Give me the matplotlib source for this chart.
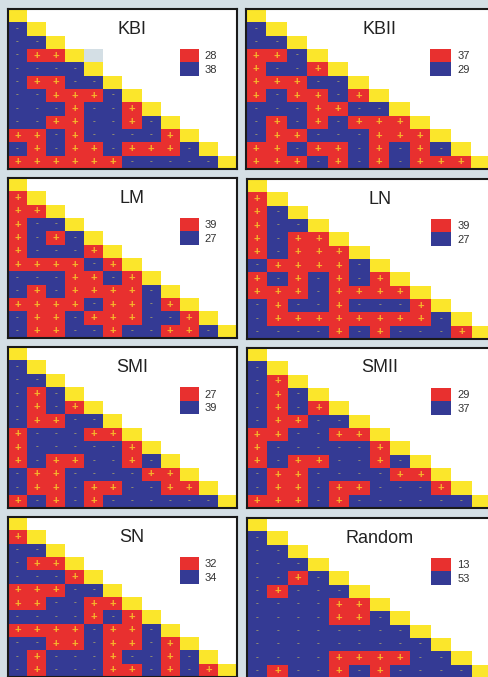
import numpy as np
import matplotlib.pyplot as plt
from matplotlib.colors import ListedColormap

plt.rcParams['font.family'] = ['Liberation Sans', 'DejaVu Sans']

# rows 1..11 of the lower triangle, '+' = positive, '-' = negative
titles = ['KBI', 'KBII', 'LM', 'LN', 'SMI', 'SMII', 'SN', 'Random']

kbi = ['-', '--', '-++', '----', '-++--', '--+++-', '---+--+', '--++--+-',
       '++-+----+', '-+-++-+++-', '++++++-----']
kbii = ['-', '--', '++-', '+--+', '+++--', '+-++-+', '---++--', '-+-+-+++',
        '-++---+++', '++-++-+-+-', '+++-+-+-+++']
lm = ['+', '++', '+--', '+-+-', '+---+', '++++-+', '---++-+', '-+-++++-',
      '++++-++-+', '-++-+++--+', '-++--+--++-']
ln = ['+', '+-', '+--', '+-++', '+-+++', '-++++-', '+-+-+-+', '+++-++++',
      '-+--+---+', '-++++++++-', '----+-+---+']
smi = ['-', '--', '-+-', '-+-+', '-++--', '+---++', '+-----+', '+-++--+-',
       '-++----++', '-++-++--++', '+-+-+------']
smii = ['-', '-+', '-+-', '-+-+', '-++--', '++--++', '+-----+', '+-++--+-',
        '-++----++', '-++-++---+', '+++-+------']
sn = ['+', '--', '-++', '---+', '+++--', '++--++', '----+-+', '++++-++-',
      '--++-++-+', '-+---+--+-', '-+---++-+-+']
rand = ['-', '--', '---', '--+-', '-+---', '----++', '----++-', '--------',
        '---------', '----++++--', '-+--+-+----']
panels = [kbi, kbii, lm, ln, smi, smii, sn, rand]

# panel boxes in pixels: left, top, right, bottom
boxes = [(8, 9, 237, 169), (246, 9, 492, 169),
         (8, 178, 237, 338), (247, 179, 492, 339),
         (8, 347, 237, 508), (247, 348, 492, 508),
         (8, 517, 237, 677), (247, 518, 492, 678)]

RED = '#e8302f'
BLUE = '#343a94'
YELLOW = '#fbe62b'
BG = '#d4dfe5'

W, H = 489, 677
fig = plt.figure(figsize=(W / 100, H / 100), dpi=100, facecolor=BG)

n = 12
cmap = ListedColormap([YELLOW, RED, BLUE, BG])

for title, rows, (l, t, r, b) in zip(titles, panels, boxes):
    ax = fig.add_axes([l / W, 1 - b / H, (r - l) / W, (b - t) / H])
    ax.set_facecolor('white')

    mat = np.full((n, n), np.nan)
    for i in range(n):
        mat[i, i] = 0
    for i, row in enumerate(rows, start=1):
        for j, s in enumerate(row):
            mat[i, j] = 1 if s == '+' else 2
    if title == 'KBI':
        mat[3, 4] = 3  # odd grey cell in the original

    ax.pcolormesh(np.arange(n + 1), np.arange(n + 1),
                  np.ma.masked_invalid(mat), cmap=cmap, vmin=-0.5, vmax=3.5)

    for i, row in enumerate(rows, start=1):
        for j, s in enumerate(row):
            if s == '+':
                ax.text(j + 0.5, i + 0.5, '+', color='#f6b92b', fontsize=8,
                        fontweight='bold', ha='center', va='center')
            else:
                ax.text(j + 0.5, i + 0.45, '-', color='#a9a26a', fontsize=6,
                        fontweight='bold', ha='center', va='center')

    n_pos = sum(row.count('+') for row in rows)
    n_neg = sum(row.count('-') for row in rows)
    ax.add_patch(plt.Rectangle((9, 3), 1, 1, color=RED, lw=0))
    ax.add_patch(plt.Rectangle((9, 4), 1, 1, color=BLUE, lw=0))
    ax.text(10.3, 3.55, str(n_pos), fontsize=8, color='#333333', va='center')
    ax.text(10.3, 4.55, str(n_neg), fontsize=8, color='#333333', va='center')

    ax.text(6.5, 1.5, title, fontsize=13, color='#222222',
            ha='center', va='center')

    ax.set_xlim(0, n)
    ax.set_ylim(n, 0)
    ax.set_xticks([])
    ax.set_yticks([])
    for sp in ax.spines.values():
        sp.set_linewidth(1.5)
        sp.set_color('#1a1a1a')

fig.savefig('out.png', dpi=100, facecolor=BG)
plt.close(fig)
